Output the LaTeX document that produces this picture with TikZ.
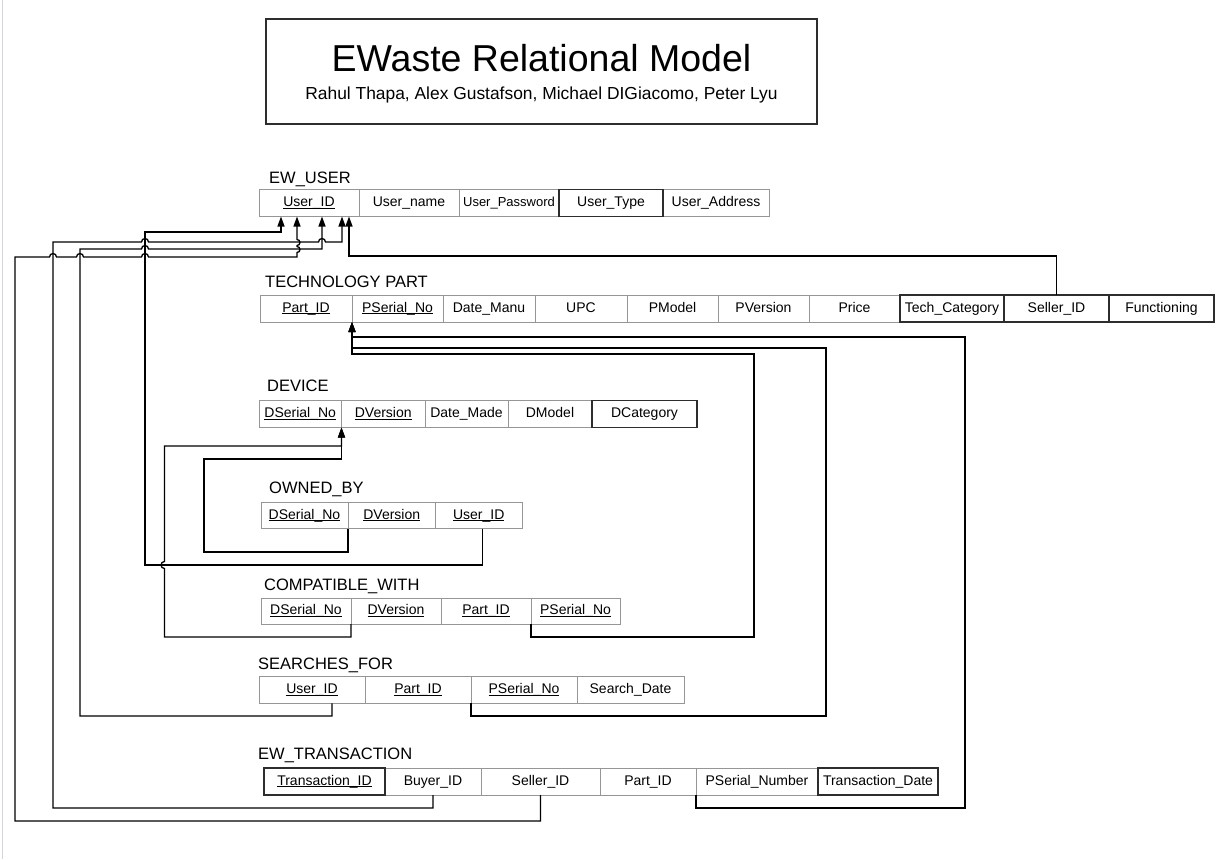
\documentclass[tikz,border=0pt]{standalone}
\usepackage{fontspec}
\setmainfont{Liberation Sans}
\usetikzlibrary{arrows.meta,positioning}
\definecolor{cellgray}{RGB}{150,150,150}
\definecolor{edgedark}{RGB}{45,45,45}
\definecolor{pagegray}{RGB}{212,212,222}
\newcommand{\keyattr}[1]{\underline{\smash{#1}}}
\tikzset{
  cell/.style={draw=cellgray, line width=0.9pt, minimum height=27pt, inner sep=0pt,
               outer sep=0pt, text height=10pt, text depth=3pt, font=\fontsize{14}{16}\selectfont},
  keycell/.style={cell, draw=edgedark, line width=1.5pt},
  tbllabel/.style={anchor=base west, inner sep=0pt, font=\fontsize{16.5}{19}\selectfont},
  titlebox/.style={draw=edgedark, line width=1.5pt, minimum width=551pt, minimum height=105pt},
  fkarr/.style={-{Triangle[length=10pt,width=7pt]}, line width=1.3pt},
  hop/.style={radius=3.5},
}

\begin{document}
\begin{tikzpicture}[x=1pt,y=-1pt]
  \fill[white] (0,0) rectangle (1225,859);
  \useasboundingbox (0,0) rectangle (1225,859);
  \draw[pagegray, line width=1pt] (2.5,0) -- (2.5,859);

  % title
  \node[titlebox] (ttl) at (541.5,71.5) {};
  \node[anchor=base, inner sep=0pt, font=\fontsize{37.5}{44}\selectfont] (ttl-main) at (541.5,71) {EWaste Relational Model};
  \node[anchor=base, inner sep=0pt, font=\fontsize{17.4}{20}\selectfont] (ttl-sub) at (541.5,99.5)
       {Rahul Thapa, Alex Gustafson, Michael DIGiacomo, Peter Lyu};

  % EW_USER
  \node[tbllabel] (usr) at (269,183) {EW\_USER};
  \foreach \n/\t/\l/\r in {uid/\keyattr{User\_ID}/259/359, uname/User\_name/359/459,
      upw/{\fontsize{13}{15}\selectfont User\_Password}/459/559, uaddr/User\_Address/663/769}
    \node[cell, minimum width=\r-\l] (usr-\n) at ({(\l+\r)/2},203) {\t};
  \node[keycell, minimum width=104] (usr-utype) at (611,203) {User\_Type};

  % TECHNOLOGY PART
  \node[tbllabel] (tp) at (265,287) {TECHNOLOGY PART};
  \foreach \n/\t/\l/\r in {pid/\keyattr{Part\_ID}/260/352, psn/\keyattr{PSerial\_No}/352/443,
      dman/Date\_Manu/443/535, upc/UPC/535/627, pmod/PModel/627/718, pver/PVersion/718/809,
      price/Price/809/900}
    \node[cell, minimum width=\r-\l] (tp-\n) at ({(\l+\r)/2},308.5) {\t};
  \foreach \n/\t/\l/\r in {tcat/Tech\_Category/900/1004, sid/Seller\_ID/1004/1109,
      func/Functioning/1109/1214}
    \node[keycell, minimum width=\r-\l] (tp-\n) at ({(\l+\r)/2},308.5) {\t};

  % DEVICE
  \node[tbllabel] (dev) at (267,391) {DEVICE};
  \foreach \n/\t/\l/\r in {dsn/\keyattr{DSerial\_No}/259/341.5, dver/\keyattr{DVersion}/341.5/425,
      dmade/Date\_Made/425/508, dmod/DModel/508/592}
    \node[cell, minimum width=\r-\l] (dev-\n) at ({(\l+\r)/2},414) {\t};
  \node[keycell, minimum width=105] (dev-dcat) at (644.5,414) {DCategory};

  % OWNED_BY
  \node[tbllabel] (own) at (269,493.5) {OWNED\_BY};
  \foreach \n/\t/\l/\r in {dsn/\keyattr{DSerial\_No}/261/348, dver/\keyattr{DVersion}/348/435.5,
      uid/\keyattr{User\_ID}/435.5/522}
    \node[cell, minimum width=\r-\l, minimum height=26] (own-\n) at ({(\l+\r)/2},515.5) {\t};

  % COMPATIBLE_WITH
  \node[tbllabel] (cmp) at (264,590.5) {COMPATIBLE\_WITH};
  \foreach \n/\t/\l/\r in {dsn/\keyattr{DSerial\_No}/261/351, dver/\keyattr{DVersion}/351/441,
      pid/\keyattr{Part\_ID}/441/531, psn/\keyattr{PSerial\_No}/531/620}
    \node[cell, minimum width=\r-\l, minimum height=26] (cmp-\n) at ({(\l+\r)/2},611) {\t};

  % SEARCHES_FOR
  \node[tbllabel] (srch) at (258,669) {SEARCHES\_FOR};
  \foreach \n/\t/\l/\r in {uid/\keyattr{User\_ID}/259/365, pid/\keyattr{Part\_ID}/365/471,
      psn/\keyattr{PSerial\_No}/471/577, sdate/Search\_Date/577/684}
    \node[cell, minimum width=\r-\l, minimum height=26.5] (srch-\n) at ({(\l+\r)/2},690) {\t};

  % EW_TRANSACTION
  \node[tbllabel] (trn) at (258,759) {EW\_TRANSACTION};
  \foreach \n/\t/\l/\r in {bid/Buyer\_ID/385/481, sid/Seller\_ID/481/600, pid/Part\_ID/600/696,
      psn/PSerial\_Number/696/818}
    \node[cell, minimum width=\r-\l] (trn-\n) at ({(\l+\r)/2},781.5) {\t};
  \node[keycell, minimum width=121] (trn-tid) at (324.5,781.5) {\keyattr{Transaction\_ID}};
  \node[keycell, minimum width=120] (trn-tdate) at (878,781.5) {Transaction\_Date};

  % arrow ends
  \coordinate (ua1) at ([xshift=-28]usr-uid.south);
  \coordinate (ua2) at ([xshift=-12]usr-uid.south);
  \coordinate (ua3) at ([xshift=13]usr-uid.south);
  \coordinate (ua4) at ([xshift=33]usr-uid.south);
  \coordinate (ua5) at ([xshift=40]usr-uid.south);
  \coordinate (pa) at (tp-psn.south west);
  \coordinate (da) at (dev-dver.south west);

  % references to EW_USER (with line jumps)
  \draw[fkarr] ([xshift=4]own-uid.south) |- (145,565) -- (145,232) -| (ua1);
  \draw[fkarr, hop] (trn-sid.south) |- (15,821) -- (15,257)
    -- (49.5,257) arc[start angle=180, end angle=360] -- (76.5,257) arc[start angle=180, end angle=360]
    -- (141.5,257) arc[start angle=180, end angle=360] -- (297,257)
    -- (297,252.5) arc[start angle=90, end angle=-90, radius=3] -- (297,245.5)
    arc[start angle=90, end angle=-90, radius=3] -- (ua2);
  \draw[fkarr, hop] ([xshift=20]srch-uid.south) |- (80,716) -- (80,249)
    -- (141.5,249) arc[start angle=180, end angle=360] -| (ua3);
  \draw[fkarr, hop] (trn-bid.south) |- (53,808) -- (53,242)
    -- (141.5,242) arc[start angle=180, end angle=360] -- (318.5,242) arc[start angle=180, end angle=360] -| (ua4);
  \draw[fkarr] (tp-sid.north) -- ++(0,-39) -| (ua5);

  % references to TECHNOLOGY PART
  \draw[fkarr] (trn-psn.south west) |- (965,808) -- (965,337) -| (pa);
  \draw[fkarr] (srch-psn.south west) |- (826,716) -- (826,348) -| (pa);
  \draw[fkarr] (cmp-psn.south west) |- (754,637) -- (754,354) -| (pa);

  % references to DEVICE
  \draw[fkarr, hop] (cmp-dver.south west) |- (164.5,637) -- (164.5,568.5)
    arc[start angle=90, end angle=270] -- (164.5,446) -| (da);
  \draw[fkarr] (own-dver.south west) |- (204,552) -- (204,459) -| (da);
\end{tikzpicture}
\end{document}
